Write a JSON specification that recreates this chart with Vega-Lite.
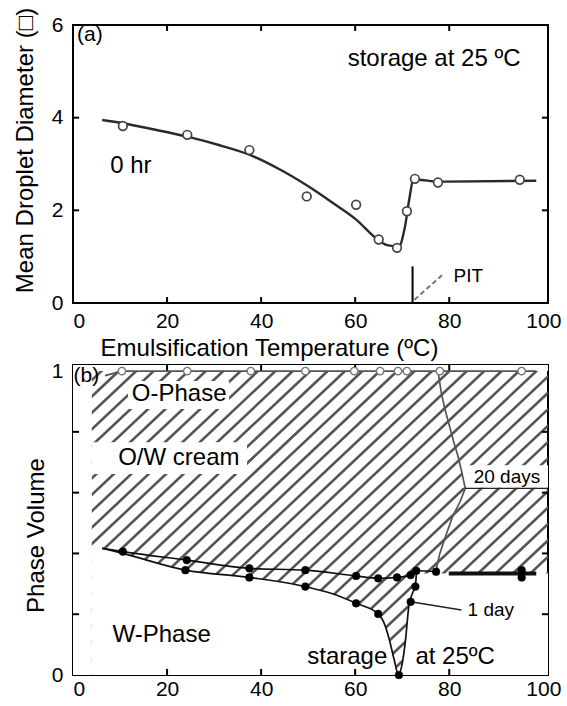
{
 "$schema": "https://vega.github.io/schema/vega-lite/v6.json",
 "autosize": {"type": "none"},
 "padding": {"left": 73, "top": 25, "right": 494, "bottom": 681},
 "background": "white",
 "bounds": "flush",
 "spacing": 62,
 "config": {
  "font": "Liberation Sans",
  "view": {"stroke": "black", "strokeWidth": 2},
  "axis": {"domain": false, "grid": false, "ticks": false, "labelFont": "Liberation Sans", "labelFontSize": 21, "labelColor": "black", "titleFont": "Liberation Sans", "titleFontSize": 24, "titleFontWeight": "normal", "titleColor": "black"},
  "text": {"font": "Liberation Sans", "color": "black"}
 },
 "datasets": {
  "curveA": [{"t":6.2,"d":3.95},{"t":10.6,"d":3.88},{"t":17,"d":3.75},{"t":24.3,"d":3.59},{"t":31,"d":3.41},{"t":37.5,"d":3.2},{"t":44,"d":2.88},{"t":50.6,"d":2.48},{"t":55.5,"d":2.14},{"t":60.2,"d":1.8},{"t":64.9,"d":1.36},{"t":66.8,"d":1.25},{"t":69.3,"d":1.22},{"t":70.5,"d":1.6},{"t":71.6,"d":2.3},{"t":72.3,"d":2.64},{"t":73.2,"d":2.66},{"t":77.6,"d":2.62},{"t":98.5,"d":2.64}],
  "ptsA": [{"t":10.6,"d":3.82},{"t":24.3,"d":3.63},{"t":37.5,"d":3.3},{"t":49.7,"d":2.3},{"t":60.2,"d":2.12},{"t":65.0,"d":1.37},{"t":68.9,"d":1.19},{"t":71.0,"d":1.98},{"t":72.7,"d":2.68},{"t":77.6,"d":2.6},{"t":95.0,"d":2.66}],
  "pitA": [{"t":72.2,"lo":0,"hi":0.79}],
  "pitDash": [{"t1":72.6,"d1":0.07,"t2":78.8,"d2":0.63}],
  "textA24": [{"t":58.4,"d":5.26,"label":"storage at 25 ºC"},{"t":7.9,"d":2.95,"label":"0 hr"}],
  "textA21": [{"t":0.85,"d":5.78,"label":"(a)"}],
  "textA19": [{"t":80.9,"d":0.575,"label":"PIT"}],
  "ticksX": [{"v":20},{"v":40},{"v":60},{"v":80}],
  "ticksYA": [{"v":2},{"v":4}],
  "ticksYB": [{"v":0.2},{"v":0.4},{"v":0.6},{"v":0.8}],
  "hatch": [{"a":-70,"b":0},{"a":-66.3,"b":3.7},{"a":-62.6,"b":7.4},{"a":-58.9,"b":11.1},{"a":-55.2,"b":14.8},{"a":-51.5,"b":18.5},{"a":-47.8,"b":22.2},{"a":-44.1,"b":25.9},{"a":-40.4,"b":29.6},{"a":-36.7,"b":33.3},{"a":-33,"b":37},{"a":-29.3,"b":40.7},{"a":-25.6,"b":44.4},{"a":-21.9,"b":48.1},{"a":-18.2,"b":51.8},{"a":-14.5,"b":55.5},{"a":-10.8,"b":59.2},{"a":-7.1,"b":62.9},{"a":-3.4,"b":66.6},{"a":0.3,"b":70.3},{"a":4,"b":74},{"a":7.7,"b":77.7},{"a":11.4,"b":81.4},{"a":15.1,"b":85.1},{"a":18.8,"b":88.8},{"a":22.5,"b":92.5},{"a":26.2,"b":96.2},{"a":29.9,"b":99.9},{"a":33.6,"b":103.6},{"a":37.3,"b":107.3},{"a":41,"b":111},{"a":44.7,"b":114.7},{"a":48.4,"b":118.4},{"a":52.1,"b":122.1},{"a":55.8,"b":125.8},{"a":59.5,"b":129.5},{"a":63.2,"b":133.2},{"a":66.9,"b":136.9},{"a":70.6,"b":140.6},{"a":74.3,"b":144.3},{"a":78,"b":148},{"a":81.7,"b":151.7},{"a":85.4,"b":155.4},{"a":89.1,"b":159.1},{"a":92.8,"b":162.8},{"a":96.5,"b":166.5},{"a":100.2,"b":170.2}],
  "maskB": [{"t":4,"v":0.42},{"t":6.2,"v":0.417},{"t":10.6,"v":0.4},{"t":23.9,"v":0.345},{"t":37.5,"v":0.321},{"t":49.4,"v":0.291},{"t":55,"v":0.268},{"t":60.2,"v":0.236},{"t":64.9,"v":0.201},{"t":66.3,"v":0.165},{"t":67.2,"v":0.12},{"t":68.3,"v":0.05},{"t":69.2,"v":0.0},{"t":69.9,"v":0.03},{"t":70.7,"v":0.115},{"t":71.4,"v":0.225},{"t":72.2,"v":0.27},{"t":72.8,"v":0.291},{"t":73.0,"v":0.334},{"t":101,"v":0.334}],
  "boxB": [{"x1":0,"x2":4,"y1":0,"y2":1.02},{"x1":0,"x2":101,"y1":1.0,"y2":1.02},{"x1":11.7,"x2":33.2,"y1":0.875,"y2":0.967},{"x1":4,"x2":37,"y1":0.661,"y2":0.766},{"x1":82.8,"x2":101,"y1":0.616,"y2":0.69}],
  "grayB": [{"s":"O","o":1,"t":6.8,"v":0.985},{"s":"O","o":2,"t":10.4,"v":1.0},{"s":"O","o":3,"t":98.5,"v":1.0},
   {"s":"C","o":1,"t":77.6,"v":1.0},{"s":"C","o":2,"t":78.3,"v":0.93},{"s":"C","o":3,"t":79.0,"v":0.88},{"s":"C","o":4,"t":79.9,"v":0.828},{"s":"C","o":5,"t":80.9,"v":0.77},{"s":"C","o":6,"t":81.9,"v":0.718},{"s":"C","o":7,"t":82.7,"v":0.665},{"s":"C","o":8,"t":83.4,"v":0.614},{"s":"C","o":9,"t":82.3,"v":0.57},{"s":"C","o":10,"t":80.7,"v":0.521},{"s":"C","o":11,"t":79.3,"v":0.46},{"s":"C","o":12,"t":78.0,"v":0.4},{"s":"C","o":13,"t":77.4,"v":0.36},{"s":"C","o":14,"t":77.2,"v":0.334}],
  "curvesB": [{"s":"u","o":1,"t":6.2,"v":0.417},{"s":"u","o":2,"t":10.6,"v":0.406},{"s":"u","o":3,"t":24.2,"v":0.378},{"s":"u","o":4,"t":37.5,"v":0.351},{"s":"u","o":5,"t":49.4,"v":0.345},{"s":"u","o":6,"t":60.2,"v":0.326},{"s":"u","o":7,"t":64.9,"v":0.318},{"s":"u","o":8,"t":68.9,"v":0.321},{"s":"u","o":9,"t":71.8,"v":0.329},{"s":"u","o":10,"t":73.0,"v":0.343},{"s":"u","o":11,"t":77.2,"v":0.34},
   {"s":"d","o":1,"t":6.2,"v":0.417},{"s":"d","o":2,"t":10.6,"v":0.4},{"s":"d","o":3,"t":23.9,"v":0.345},{"s":"d","o":4,"t":37.5,"v":0.321},{"s":"d","o":5,"t":49.4,"v":0.291},{"s":"d","o":6,"t":55,"v":0.268},{"s":"d","o":7,"t":60.2,"v":0.236},{"s":"d","o":8,"t":64.9,"v":0.201},{"s":"d","o":9,"t":66.3,"v":0.165},{"s":"d","o":10,"t":67.2,"v":0.12},{"s":"d","o":11,"t":68.3,"v":0.05},{"s":"d","o":12,"t":69.2,"v":0.0},{"s":"d","o":13,"t":69.9,"v":0.03},{"s":"d","o":14,"t":70.7,"v":0.115},{"s":"d","o":15,"t":71.4,"v":0.225},{"s":"d","o":16,"t":72.2,"v":0.27},{"s":"d","o":17,"t":72.8,"v":0.291},{"s":"d","o":18,"t":73.0,"v":0.334}],
  "leadersB": [{"s":"L20","o":1,"t":83.4,"v":0.614},{"s":"L20","o":2,"t":101,"v":0.614},{"s":"L1","o":1,"t":71.8,"v":0.241},{"s":"L1","o":2,"t":82.6,"v":0.214}],
  "thickB": [{"t":79.9,"v":0.334},{"t":98.5,"v":0.334}],
  "openB": [{"t":10.4,"v":1.0},{"t":24.3,"v":1.0},{"t":37.8,"v":1.0},{"t":49.4,"v":1.0},{"t":59.8,"v":1.0},{"t":65.3,"v":1.0},{"t":69.1,"v":1.0},{"t":71.0,"v":1.0},{"t":78.0,"v":1.0},{"t":95.4,"v":1.0}],
  "filledB": [{"t":10.6,"v":0.406},{"t":24.2,"v":0.378},{"t":23.9,"v":0.345},{"t":37.5,"v":0.351},{"t":37.5,"v":0.321},{"t":49.4,"v":0.345},{"t":49.4,"v":0.291},{"t":60.2,"v":0.326},{"t":60.2,"v":0.236},{"t":64.9,"v":0.318},{"t":64.9,"v":0.201},{"t":68.9,"v":0.321},{"t":69.3,"v":0.0},{"t":71.8,"v":0.329},{"t":73.0,"v":0.343},{"t":72.8,"v":0.291},{"t":71.8,"v":0.241},{"t":77.2,"v":0.34},{"t":95.4,"v":0.345},{"t":95.4,"v":0.321}],
  "textB24": [{"t":12.5,"v":0.924,"label":"O-Phase"},{"t":9.6,"v":0.714,"label":"O/W cream"},{"t":8.4,"v":0.132,"label":"W-Phase"},{"t":49.8,"v":0.06,"label":"starage"},{"t":72.8,"v":0.06,"label":"at 25ºC"}],
  "textB21": [{"t":0.1,"v":0.985,"label":"(b)"}],
  "textB19": [{"t":85.2,"v":0.652,"label":"20 days"},{"t":83.9,"v":0.214,"label":"1 day"}]
 },
 "vconcat": [
  {
   "width": 475, "height": 278,
   "resolve": {"axis": {"x": "independent", "y": "independent"}},
   "layer": [
    {
     "data": {"name": "curveA"},
     "mark": {"type": "line", "interpolate": "monotone", "stroke": "#2a2a2a", "strokeWidth": 2.4},
     "encoding": {
      "x": {"field": "t", "type": "quantitative", "scale": {"domain": [0, 101], "nice": false, "zero": false},
            "axis": {"orient": "bottom", "values": [0, 20, 40, 60, 80, 100], "title": "Emulsification Temperature (ºC)", "titleX": 196, "titleY": 52, "titleBaseline": "alphabetic", "titleAlign": "center", "labelPadding": 7}},
      "y": {"field": "d", "type": "quantitative", "scale": {"domain": [0, 6], "nice": false, "zero": false},
            "axis": {"orient": "left", "values": [0, 2, 4, 6], "title": "Mean Droplet Diameter (□)", "titleX": -36, "titleY": 125, "titleAngle": -90, "titleBaseline": "bottom", "titleAlign": "center", "labelPadding": 10}}
     }
    },
    {
     "data": {"name": "ptsA"},
     "mark": {"type": "point", "shape": "circle", "filled": true, "fill": "white", "stroke": "#444", "strokeWidth": 1.7, "size": 75, "opacity": 1},
     "encoding": {
      "x": {"field": "t", "type": "quantitative", "axis": null},
      "y": {"field": "d", "type": "quantitative", "axis": null}
     }
    },
    {
     "data": {"name": "pitA"},
     "mark": {"type": "rule", "stroke": "black", "strokeWidth": 2},
     "encoding": {
      "x": {"field": "t", "type": "quantitative", "axis": null},
      "y": {"field": "lo", "type": "quantitative", "axis": null},
      "y2": {"field": "hi"}
     }
    },
    {
     "data": {"name": "pitDash"},
     "mark": {"type": "rule", "stroke": "#777", "strokeWidth": 2, "strokeDash": [5, 3]},
     "encoding": {
      "x": {"field": "t1", "type": "quantitative", "axis": null},
      "y": {"field": "d1", "type": "quantitative", "axis": null},
      "x2": {"field": "t2"},
      "y2": {"field": "d2"}
     }
    },
    {
     "data": {"name": "ticksX"},
     "mark": {"type": "rule", "stroke": "black", "strokeWidth": 2},
     "encoding": {
      "x": {"field": "v", "type": "quantitative", "axis": null},
      "y": {"datum": 0, "type": "quantitative", "axis": null},
      "y2": {"datum": 0.13}
     }
    },
    {
     "data": {"name": "ticksX"},
     "mark": {"type": "rule", "stroke": "black", "strokeWidth": 2},
     "encoding": {
      "x": {"field": "v", "type": "quantitative", "axis": null},
      "y": {"datum": 6, "type": "quantitative", "axis": null},
      "y2": {"datum": 5.87}
     }
    },
    {
     "data": {"name": "ticksYA"},
     "mark": {"type": "rule", "stroke": "black", "strokeWidth": 2},
     "encoding": {
      "y": {"field": "v", "type": "quantitative", "axis": null},
      "x": {"datum": 0, "type": "quantitative", "axis": null},
      "x2": {"datum": 1.3}
     }
    },
    {
     "data": {"name": "ticksYA"},
     "mark": {"type": "rule", "stroke": "black", "strokeWidth": 2},
     "encoding": {
      "y": {"field": "v", "type": "quantitative", "axis": null},
      "x": {"datum": 101, "type": "quantitative", "axis": null},
      "x2": {"datum": 99.7}
     }
    },
    {
     "data": {"name": "textA24"},
     "mark": {"type": "text", "fontSize": 24, "align": "left", "baseline": "middle"},
     "encoding": {
      "x": {"field": "t", "type": "quantitative", "axis": null},
      "y": {"field": "d", "type": "quantitative", "axis": null},
      "text": {"field": "label"}
     }
    },
    {
     "data": {"name": "textA21"},
     "mark": {"type": "text", "fontSize": 21, "align": "left", "baseline": "middle"},
     "encoding": {
      "x": {"field": "t", "type": "quantitative", "axis": null},
      "y": {"field": "d", "type": "quantitative", "axis": null},
      "text": {"field": "label"}
     }
    },
    {
     "data": {"name": "textA19"},
     "mark": {"type": "text", "fontSize": 19, "align": "left", "baseline": "middle"},
     "encoding": {
      "x": {"field": "t", "type": "quantitative", "axis": null},
      "y": {"field": "d", "type": "quantitative", "axis": null},
      "text": {"field": "label"}
     }
    }
   ]
  },
  {
   "width": 475, "height": 310,
   "resolve": {"axis": {"x": "independent", "y": "independent"}},
   "layer": [
    {
     "data": {"name": "hatch"},
     "mark": {"type": "rule", "clip": true, "stroke": "#555", "strokeWidth": 2.6},
     "encoding": {
      "x": {"field": "a", "type": "quantitative", "scale": {"domain": [0, 101], "nice": false, "zero": false},
            "axis": {"orient": "bottom", "values": [0, 20, 40, 60, 80, 100], "title": null, "labelPadding": 3}},
      "x2": {"field": "b"},
      "y": {"datum": 0, "type": "quantitative", "scale": {"domain": [0, 1.02], "nice": false, "zero": false},
            "axis": {"orient": "left", "values": [0, 1], "labelExpr": "datum.value == 0 ? '0' : '1'", "title": "Phase Volume", "titleX": -25, "titleY": 170, "titleAngle": -90, "titleBaseline": "bottom", "titleAlign": "center", "labelPadding": 10}},
      "y2": {"datum": 1.02}
     }
    },
    {
     "data": {"name": "maskB"},
     "mark": {"type": "area", "interpolate": "monotone", "fill": "white", "opacity": 1, "clip": true},
     "encoding": {
      "x": {"field": "t", "type": "quantitative", "axis": null},
      "y": {"field": "v", "type": "quantitative", "axis": null},
      "y2": {"datum": 0}
     }
    },
    {
     "data": {"name": "boxB"},
     "mark": {"type": "rect", "fill": "white", "opacity": 1, "clip": true},
     "encoding": {
      "x": {"field": "x1", "type": "quantitative", "axis": null},
      "x2": {"field": "x2"},
      "y": {"field": "y1", "type": "quantitative", "axis": null},
      "y2": {"field": "y2"}
     }
    },
    {
     "data": {"name": "ticksX"},
     "mark": {"type": "rule", "stroke": "black", "strokeWidth": 2},
     "encoding": {
      "x": {"field": "v", "type": "quantitative", "axis": null},
      "y": {"datum": 0, "type": "quantitative", "axis": null},
      "y2": {"datum": 0.02}
     }
    },
    {
     "data": {"name": "ticksX"},
     "mark": {"type": "rule", "stroke": "black", "strokeWidth": 2},
     "encoding": {
      "x": {"field": "v", "type": "quantitative", "axis": null},
      "y": {"datum": 1.02, "type": "quantitative", "axis": null},
      "y2": {"datum": 1.0}
     }
    },
    {
     "data": {"name": "ticksYB"},
     "mark": {"type": "rule", "stroke": "black", "strokeWidth": 2},
     "encoding": {
      "y": {"field": "v", "type": "quantitative", "axis": null},
      "x": {"datum": 0, "type": "quantitative", "axis": null},
      "x2": {"datum": 1.3}
     }
    },
    {
     "data": {"name": "ticksYB"},
     "mark": {"type": "rule", "stroke": "black", "strokeWidth": 2},
     "encoding": {
      "y": {"field": "v", "type": "quantitative", "axis": null},
      "x": {"datum": 101, "type": "quantitative", "axis": null},
      "x2": {"datum": 99.7}
     }
    },
    {
     "data": {"name": "grayB"},
     "mark": {"type": "line", "stroke": "#555", "strokeWidth": 1.7},
     "encoding": {
      "x": {"field": "t", "type": "quantitative", "axis": null},
      "y": {"field": "v", "type": "quantitative", "axis": null},
      "detail": {"field": "s"},
      "order": {"field": "o"}
     }
    },
    {
     "data": {"name": "curvesB"},
     "mark": {"type": "line", "interpolate": "monotone", "stroke": "#111", "strokeWidth": 1.7},
     "encoding": {
      "x": {"field": "t", "type": "quantitative", "axis": null},
      "y": {"field": "v", "type": "quantitative", "axis": null},
      "detail": {"field": "s"},
      "order": {"field": "o"}
     }
    },
    {
     "data": {"name": "leadersB"},
     "mark": {"type": "line", "stroke": "#222", "strokeWidth": 1.4},
     "encoding": {
      "x": {"field": "t", "type": "quantitative", "axis": null},
      "y": {"field": "v", "type": "quantitative", "axis": null},
      "detail": {"field": "s"},
      "order": {"field": "o"}
     }
    },
    {
     "data": {"name": "thickB"},
     "mark": {"type": "line", "stroke": "#111", "strokeWidth": 4},
     "encoding": {
      "x": {"field": "t", "type": "quantitative", "axis": null},
      "y": {"field": "v", "type": "quantitative", "axis": null}
     }
    },
    {
     "data": {"name": "openB"},
     "mark": {"type": "point", "shape": "circle", "filled": true, "fill": "white", "stroke": "#777", "strokeWidth": 1.4, "size": 55, "opacity": 1},
     "encoding": {
      "x": {"field": "t", "type": "quantitative", "axis": null},
      "y": {"field": "v", "type": "quantitative", "axis": null}
     }
    },
    {
     "data": {"name": "filledB"},
     "mark": {"type": "point", "shape": "circle", "filled": true, "fill": "black", "stroke": "black", "strokeWidth": 0.5, "size": 60, "opacity": 1},
     "encoding": {
      "x": {"field": "t", "type": "quantitative", "axis": null},
      "y": {"field": "v", "type": "quantitative", "axis": null}
     }
    },
    {
     "data": {"name": "textB24"},
     "mark": {"type": "text", "fontSize": 24, "align": "left", "baseline": "middle"},
     "encoding": {
      "x": {"field": "t", "type": "quantitative", "axis": null},
      "y": {"field": "v", "type": "quantitative", "axis": null},
      "text": {"field": "label"}
     }
    },
    {
     "data": {"name": "textB21"},
     "mark": {"type": "text", "fontSize": 21, "align": "left", "baseline": "middle"},
     "encoding": {
      "x": {"field": "t", "type": "quantitative", "axis": null},
      "y": {"field": "v", "type": "quantitative", "axis": null},
      "text": {"field": "label"}
     }
    },
    {
     "data": {"name": "textB19"},
     "mark": {"type": "text", "fontSize": 19, "align": "left", "baseline": "middle"},
     "encoding": {
      "x": {"field": "t", "type": "quantitative", "axis": null},
      "y": {"field": "v", "type": "quantitative", "axis": null},
      "text": {"field": "label"}
     }
    }
   ]
  }
 ]
}
